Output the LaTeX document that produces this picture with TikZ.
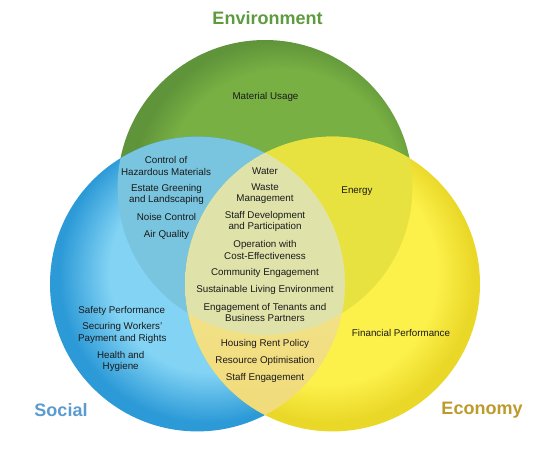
\documentclass[tikz,border=0pt]{standalone}
\usepackage{fontspec}
\setmainfont{Liberation Sans}
\definecolor{txt}{HTML}{1A1A1A}
\definecolor{greenin}{HTML}{78B043}
\definecolor{greenout}{HTML}{5F943A}
\definecolor{bluein}{HTML}{82D3F4}
\definecolor{blueout}{HTML}{2C9AD7}
\definecolor{yellowin}{HTML}{FCF04A}
\definecolor{yellowout}{HTML}{EAD828}
\definecolor{bgcol}{HTML}{79C4DE}
\definecolor{gycol}{HTML}{E7E23F}
\definecolor{bytop}{HTML}{F7EB9E}
\definecolor{bybot}{HTML}{F0DA78}
\definecolor{ctrcol}{HTML}{DFE3AA}
\definecolor{envcol}{HTML}{5E9B3F}
\definecolor{soccol}{HTML}{5B9BD0}
\definecolor{ecocol}{HTML}{BC9A2C}
\pgfdeclareradialshading{greenshade}{\pgfpoint{5bp}{0bp}}{color(0bp)=(greenin); color(20bp)=(greenin); color(25bp)=(greenout); color(50bp)=(greenout)}
\pgfdeclareradialshading{blueshade}{\pgfpoint{3bp}{3bp}}{color(0bp)=(bluein); color(17bp)=(bluein); color(25bp)=(blueout); color(50bp)=(blueout)}
\pgfdeclareradialshading{yellowshade}{\pgfpoint{-2bp}{3bp}}{color(0bp)=(yellowin); color(19bp)=(yellowin); color(25bp)=(yellowout); color(50bp)=(yellowout)}
\begin{document}
\begin{tikzpicture}[x=1pt,y=-1pt,
  item/.style={font=\fontsize{9.8}{11.5}\selectfont, align=center, inner sep=0pt, text=txt},
  titlestyle/.style={font=\fontsize{18}{20}\selectfont\bfseries, inner sep=0pt}]
\useasboundingbox (0,0) rectangle (540,450);
\coordinate (G) at (265,187.4);
\coordinate (B) at (197.4,284);
\coordinate (Y) at (332.6,284);
\def\R{147.4}
% base circles
\path[shading=greenshade] (G) circle (\R);
\path[shading=blueshade] (B) circle (\R);
\path[shading=yellowshade] (Y) circle (\R);
% overlaps
\begin{scope}
  \clip (G) circle (\R);
  \fill[bgcol] (B) circle (\R);
\end{scope}
\begin{scope}
  \clip (G) circle (\R);
  \fill[gycol] (Y) circle (\R);
\end{scope}
\begin{scope}
  \clip (B) circle (\R);
  \shade[top color=bytop, bottom color=bybot] (Y) circle (\R);
\end{scope}
\begin{scope}
  \clip (G) circle (\R);
  \clip (B) circle (\R);
  \fill[ctrcol] (Y) circle (\R);
\end{scope}
% titles
\node[titlestyle, text=envcol] (env) at (267.5,18.5) {Environment};
\node[titlestyle, text=soccol] (soc) at (61,410.5) {Social};
\node[titlestyle, text=ecocol] (eco) at (482,410.5) {Economy};
% environment only
\node[item] (mat) at (265.5,96.5) {Material Usage};
% social + environment
\node[item] (haz) at (166,166) {Control of\\Hazardous Materials};
\node[item] (est) at (166.5,194.3) {Estate Greening\\and Landscaping};
\node[item] (noi) at (166.5,217.2) {Noise Control};
\node[item] (air) at (166.5,234.5) {Air Quality};
% all three
\node[item] (wat) at (265,171.2) {Water};
\node[item] (was) at (265,193.5) {Waste\\Management};
\node[item] (sdp) at (265,221.5) {Staff Development\\and Participation};
\node[item] (ope) at (265,250) {Operation with\\Cost-Effectiveness};
\node[item] (com) at (265,272.8) {Community Engagement};
\node[item] (sus) at (265,289.8) {Sustainable Living Environment};
\node[item] (ten) at (265,312.7) {Engagement of Tenants and\\Business Partners};
% environment + economy
\node[item] (ene) at (357,191.2) {Energy};
% economy only
\node[item] (fin) at (401,332.8) {Financial Performance};
% social only
\node[item] (saf) at (121.7,310.5) {Safety Performance};
\node[item] (sec) at (122.3,333) {Securing Workers'\\Payment and Rights};
\node[item] (hea) at (120.7,361.5) {Health and\\Hygiene};
% social + economy
\node[item] (hou) at (265,343.8) {Housing Rent Policy};
\node[item] (res) at (265,361.2) {Resource Optimisation};
\node[item] (sen) at (265,378.2) {Staff Engagement};
\end{tikzpicture}
\end{document}
